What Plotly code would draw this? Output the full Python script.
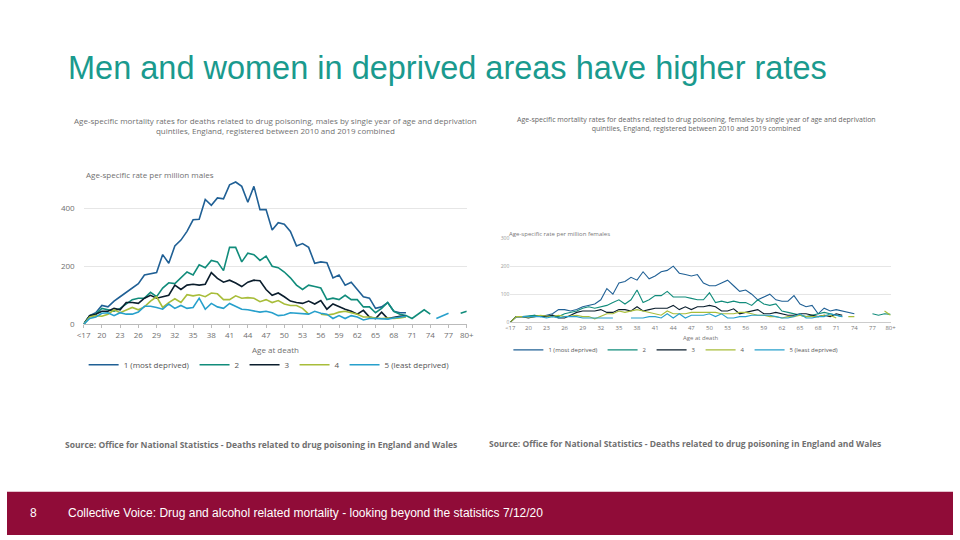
import plotly.graph_objects as go

ages = ["<17"] + [str(a) for a in range(18, 80)] + ["80+"]
tick_labels = ["<17","20","23","26","29","32","35","38","41","44","47","50","53","56","59","62","65","68","71","74","77","80+"]
series_names = ["1 (most deprived)", "2", "3", "4", "5 (least deprived)"]
colors = ["#206095", "#118C7B", "#0B1E2D", "#A8BD3A", "#27A0CC"]

N = None
# males, <17 then ages 18..79 then 80+
m1 = [0,30,40,65,60,80,95,110,125,140,170,175,178,240,210,270,290,320,360,362,430,410,435,432,480,490,475,420,475,395,395,325,350,345,320,270,278,265,210,215,212,160,170,135,145,120,95,90,55,60,75,45,40,40,N,N,N,N,N,N,N,N,N,N]
m2 = [0,30,35,55,50,45,55,70,85,90,90,110,95,125,143,140,160,180,170,205,195,220,215,185,265,265,215,245,240,220,235,200,195,180,160,135,120,135,130,125,85,90,85,100,85,85,60,60,40,55,75,45,35,30,20,35,50,35,N,N,N,N,38,45]
m3 = [0,30,35,45,45,55,50,75,75,72,90,100,90,95,100,135,120,135,138,135,138,178,158,145,152,142,130,145,152,150,120,100,108,95,80,75,72,80,70,82,52,70,60,52,45,35,48,25,20,42,20,25,28,28,N,N,N,N,N,N,N,N,N,N]
m4 = [0,25,30,28,35,50,40,50,58,50,60,80,95,58,75,88,75,102,98,102,95,108,105,85,85,98,90,92,90,78,85,75,82,70,65,65,55,35,N,35,32,35,42,45,40,35,25,25,22,20,22,20,22,25,N,N,N,N,N,N,N,N,N,N]
m5 = [0,20,25,38,40,30,40,35,35,42,62,62,58,52,70,55,65,55,58,90,52,72,60,55,72,62,52,50,45,42,45,40,30,32,40,38,35,35,45,38,35,20,30,20,30,25,15,20,20,20,18,22,25,28,N,N,N,N,20,28,38,N,N,N]
# females
f1 = [0,20,20,20,25,20,25,30,45,45,40,45,55,60,65,80,120,100,140,145,160,150,180,155,165,180,185,200,175,170,165,170,140,130,130,140,150,130,110,115,100,80,90,100,80,75,75,95,65,55,60,30,50,40,45,40,35,30,N,N,N,N,N,N]
f2 = [0,20,20,22,25,22,20,25,20,30,35,40,50,55,50,55,60,70,80,65,80,115,70,80,95,95,110,90,90,90,85,80,80,105,70,75,70,75,70,70,60,80,65,60,65,40,35,30,25,20,25,30,35,30,25,20,N,N,N,N,30,25,30,28]
f3 = [0,20,20,15,20,22,20,25,15,15,25,35,40,40,40,45,35,35,45,45,40,55,40,45,50,50,50,60,45,55,45,55,55,60,55,40,40,48,30,35,40,45,30,30,35,30,25,25,30,30,25,20,25,20,30,25,N,N,N,N,N,N,N,N]
f4 = [0,20,20,18,20,25,22,20,25,20,22,25,20,20,12,20,30,30,40,35,40,45,40,35,30,25,40,30,30,30,35,35,35,35,35,30,30,30,35,35,30,25,25,20,20,15,20,20,25,20,20,20,25,25,15,N,20,20,N,N,N,N,40,25]
f5 = [0,N,20,20,20,20,15,20,15,20,20,20,15,15,15,15,15,15,N,N,15,15,15,20,20,15,30,15,30,15,25,25,25,30,20,30,15,15,20,20,25,25,25,25,20,15,15,20,30,15,15,20,20,30,25,20,N,N,N,N,N,N,N,N]

male = [m1, m2, m3, m4, m5]
female = [f1, f2, f3, f4, f5]

fig = go.Figure()
xs = list(range(len(ages)))
for i in range(5):
    fig.add_trace(go.Scatter(x=xs, y=male[i], mode="lines", name=series_names[i],
                             line=dict(color=colors[i], width=1.6), xaxis="x", yaxis="y", legend="legend"))
for i in range(5):
    fig.add_trace(go.Scatter(x=xs, y=female[i], mode="lines", name=series_names[i],
                             line=dict(color=colors[i], width=1.1), xaxis="x2", yaxis="y2", legend="legend2"))

tickvals = [ages.index(t) for t in tick_labels]
axfont = dict(family="Open Sans", size=8, color="#707070")
fig.update_layout(
    width=960, height=540, margin=dict(l=0, r=0, t=0, b=0),
    paper_bgcolor="white", plot_bgcolor="white",
    xaxis=dict(domain=[0.081, 0.486], range=[0, 63], tickvals=tickvals, ticktext=tick_labels,
               tickfont=axfont, showgrid=False, showline=True, linecolor="#bbbbbb",
               ticks="outside", ticklen=3, tickcolor="#bbbbbb", zeroline=False),
    yaxis=dict(domain=[0.396, 0.669], range=[0, 500], tickvals=[0, 200, 400], tickfont=axfont,
               gridcolor="#e6e6e6", zeroline=False, ticklabelstandoff=8),
    xaxis2=dict(domain=[0.532, 0.934], range=[0, 63], tickvals=tickvals, ticktext=tick_labels,
                tickfont=dict(family="Open Sans", size=6, color="#777"), showgrid=False, showline=True,
                linecolor="#cccccc", zeroline=False, anchor="y2"),
    yaxis2=dict(domain=[0.4, 0.558], range=[0, 300], tickvals=[0, 100, 200, 300],
                tickfont=dict(family="Open Sans", size=5, color="#999"), gridcolor="#e6e6e6",
                zeroline=False, anchor="x2"),
    legend=dict(orientation="h", x=0.081, y=0.32, xanchor="left", yanchor="middle",
                font=dict(family="Open Sans", size=8, color="#555"), itemwidth=30, bgcolor="rgba(0,0,0,0)"),
    legend2=dict(orientation="h", x=0.53, y=0.348, xanchor="left", yanchor="middle",
                 font=dict(family="Open Sans", size=6, color="#555"), itemwidth=30, bgcolor="rgba(0,0,0,0)"),
)

ann = [
    dict(x=60, y=66, text="Men and women in deprived areas have higher rates", font=dict(family="Liberation Sans", size=32.5, color="#1A9A8E"), xanchor="left"),
    dict(x=272, y=124, text="Age-specific mortality rates for deaths related to drug poisoning, males by single year of age and deprivation<br>quintiles, England, registered between 2010 and 2019 combined",
         font=dict(family="Open Sans", size=8, color="#707070"), xanchor="center"),
    dict(x=78, y=174, text="Age-specific rate per million males", font=dict(family="Open Sans", size=8, color="#707070"), xanchor="left"),
    dict(x=272, y=352, text="Age at death", font=dict(family="Open Sans", size=8, color="#707070"), xanchor="center"),
    dict(x=700, y=123, text="Age-specific mortality rates for deaths related to drug poisoning, females by single year of age and deprivation<br>quintiles, England, registered between 2010 and 2019 combined",
         font=dict(family="Open Sans", size=7, color="#666"), xanchor="center"),
    dict(x=507, y=234, text="Age-specific rate per million females", font=dict(family="Open Sans", size=6, color="#777"), xanchor="left"),
    dict(x=704, y=340, text="Age at death", font=dict(family="Open Sans", size=6, color="#777"), xanchor="center"),
    dict(x=57, y=448, text="<b>Source: Office for National Statistics - Deaths related to drug poisoning in England and Wales</b>",
         font=dict(family="Open Sans", size=8.5, color="#707070"), xanchor="left"),
    dict(x=487, y=447, text="<b>Source: Office for National Statistics - Deaths related to drug poisoning in England and Wales</b>",
         font=dict(family="Open Sans", size=8.5, color="#707070"), xanchor="left"),
    dict(x=27, y=518, text="8", font=dict(family="Liberation Sans", size=12, color="white"), xanchor="center"),
    dict(x=60, y=518, text="Collective Voice: Drug and alcohol related mortality - looking beyond the statistics 7/12/20",
         font=dict(family="Liberation Sans", size=12, color="white"), xanchor="left"),
]
for a in ann:
    a.update(xref="paper", yref="paper", x=a["x"] / 960, y=1 - a["y"] / 540, yanchor="middle", showarrow=False)
fig.update_layout(annotations=ann)
fig.add_shape(type="rect", xref="paper", yref="paper", x0=0, x1=1, y0=0, y1=1 - 496 / 540,
              fillcolor="#900C38", line_width=0, layer="below")
fig.write_html("out.html", config={"displayModeBar": False},
               post_script=("document.documentElement.style.margin='0';document.documentElement.style.padding='0';"
                            "document.documentElement.style.overflow='hidden';"
                            "document.body.style.margin='0';document.body.style.padding='0';document.body.style.overflow='hidden';"
                            "var d=document.getElementById('{plot_id}');var p=d.parentElement;"
                            "p.style.position='absolute';p.style.left='0px';p.style.top='0px';p.style.margin='0';"))
